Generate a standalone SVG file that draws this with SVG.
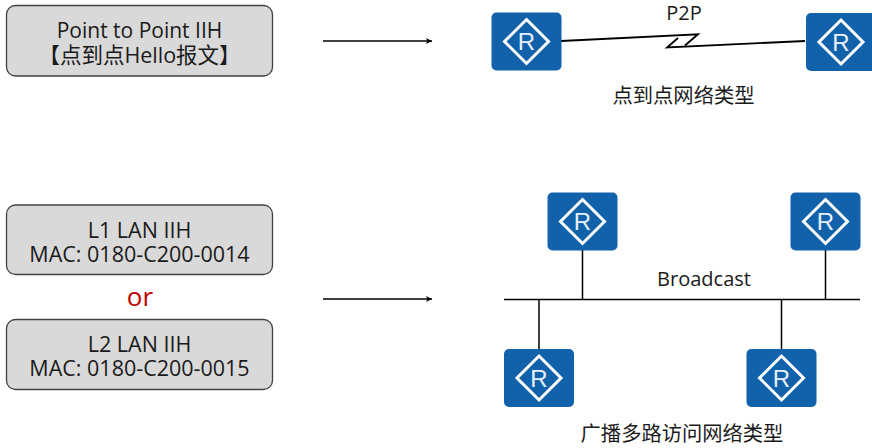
<svg xmlns="http://www.w3.org/2000/svg" width="872" height="448" viewBox="0 0 872 448">
<style>
text{font-family:"Open Sans","Noto Sans CJK SC","Noto Sans",sans-serif;fill:#1a1a1a;text-anchor:middle;font-size:21.500px}
.box{fill:#d9d9d9;stroke:#404040;stroke-width:1.3}
.c{stroke:#000;stroke-width:1.5;fill:none}
.z{stroke:#000;stroke-width:1.8;fill:none;stroke-linejoin:miter}
.body{fill:#1262ab}
.dia{fill:none;stroke:#fff;stroke-width:3}
.r{fill:#e6f0fa;font-size:24px;font-family:"Liberation Sans",sans-serif}
</style>
<defs>
<marker id="a" markerWidth="7" markerHeight="7" refX="6" refY="3" orient="auto" markerUnits="userSpaceOnUse"><path d="M0 0L6 3L0 6L1.500 3Z" fill="#000"/></marker>
<g id="router">
<rect class="body" width="70" height="58" rx="5"/>
<path class="dia" d="M35 7L57 29L35 51L13 29Z"/>
<text class="r" x="35" y="37.500">R</text>
</g>
</defs>
<g id="connectors">
<path class="c" d="M323 41H432" marker-end="url(#a)"/>
<path class="c" d="M323 299H432" marker-end="url(#a)"/>
<path class="z" d="M561 41L698 34.300L685 45.500"/>
<path class="z" d="M678 38L667 47.500L805 41"/>
<path class="c" d="M504 299.500H860"/>
<path class="c" d="M582.500 250V299M825.500 250V299M539 300V349M781.500 300V349"/>
</g>
<g id="box-p2p"><rect class="box" x="6.500" y="5.500" width="266" height="70.500" rx="9"/><text x="139.500" y="37.500" style="font-size:21px">Point to Point IIH<tspan x="139.500" y="62.500" style="font-size:21.500px">【点到点Hello报文】</tspan></text></g>
<g id="box-l1"><rect class="box" x="6.500" y="205" width="266" height="69.500" rx="9"/><text x="139.500" y="237.500">L1 LAN IIH<tspan x="139.500" y="261.500">MAC: 0180-C200-0014</tspan></text></g>
<text id="or" x="140" y="306" style="fill:#c00000;font-size:26px">or</text>
<g id="box-l2"><rect class="box" x="6.500" y="319.500" width="266" height="70" rx="9"/><text x="139.500" y="352">L2 LAN IIH<tspan x="139.500" y="375.500">MAC: 0180-C200-0015</tspan></text></g>
<g id="r1"><use href="#router" x="491.500" y="12.500"/></g>
<g id="r2"><use href="#router" x="806" y="13"/></g>
<g id="r3"><use href="#router" x="547.500" y="192.500"/></g>
<g id="r4"><use href="#router" x="790.500" y="192.500"/></g>
<g id="r5"><use href="#router" x="504" y="349"/></g>
<g id="r6"><use href="#router" x="746.500" y="349"/></g>
<text id="l-p2p" x="684" y="20" style="font-size:20px">P2P</text>
<text id="l-ptp" x="683.500" y="103" style="font-size:20.300px">点到点网络类型</text>
<text id="l-bc" x="704" y="286" style="font-size:20px">Broadcast</text>
<text id="l-bma" x="682" y="441" style="font-size:20.300px">广播多路访问网络类型</text>
</svg>
